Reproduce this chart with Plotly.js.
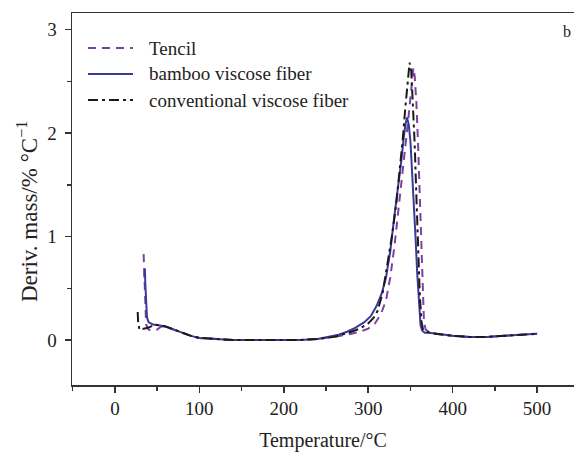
<!DOCTYPE html>
<html>
<head>
<meta charset="utf-8">
<script src="https://cdn.plot.ly/plotly-3.0.1.min.js"></script>
<style>html,body{margin:0;padding:0;background:#fff;}#chart{width:575px;height:452px;}</style>
</head>
<body>
<div id="chart"></div>
<script>
// Tencil (dashed purple)
const tencilT = [34, 35, 36, 37, 40, 45, 50, 55, 60, 70, 80, 90, 100, 120, 140, 160, 180, 200, 220, 240, 260, 280, 290, 300, 308, 315, 321, 326, 331, 335, 338, 343, 347, 350, 352, 353.5, 355, 357, 359, 361, 363, 364.5, 366, 368, 372, 380, 400, 420, 440, 460, 480, 500];
const tencilV = [0.83, 0.6, 0.3, 0.15, 0.1, 0.09, 0.1, 0.13, 0.13, 0.1, 0.07, 0.04, 0.02, 0.01, 0.0, 0.0, 0.0, 0.0, 0.0, 0.01, 0.03, 0.06, 0.08, 0.11, 0.16, 0.25, 0.38, 0.6, 0.9, 1.2, 1.45, 1.8, 2.1, 2.35, 2.55, 2.63, 2.55, 2.3, 1.9, 1.35, 0.8, 0.4, 0.18, 0.1, 0.08, 0.06, 0.04, 0.03, 0.03, 0.04, 0.05, 0.06];

// bamboo viscose fiber (solid blue)
const bambooT = [35, 35.5, 36, 37, 38, 40, 45, 50, 60, 70, 80, 90, 100, 120, 140, 160, 180, 200, 220, 240, 255, 265, 275, 285, 295, 303, 310, 316, 321, 326, 331, 336, 339, 342, 344, 346, 348, 350, 352, 354, 356, 358, 360, 362, 364, 367, 372, 380, 400, 420, 440, 460, 480, 500];
const bambooV = [0.6, 0.69, 0.55, 0.35, 0.22, 0.17, 0.15, 0.145, 0.13, 0.1, 0.07, 0.04, 0.02, 0.01, 0.0, 0.0, 0.0, 0.0, 0.0, 0.01, 0.03, 0.05, 0.08, 0.12, 0.17, 0.23, 0.33, 0.45, 0.6, 0.85, 1.2, 1.5, 1.72, 1.95, 2.08, 2.15, 2.08, 1.92, 1.65, 1.35, 1.0, 0.65, 0.33, 0.14, 0.09, 0.07, 0.07, 0.06, 0.04, 0.03, 0.03, 0.04, 0.05, 0.06];

// conventional viscose fiber (dash-dot black)
const convT = [27, 27.5, 29, 33, 40, 47, 55, 60, 70, 80, 90, 100, 120, 140, 160, 180, 200, 220, 240, 260, 280, 290, 300, 306, 311, 317, 323, 328, 333, 337, 341, 344, 347, 349, 351, 353, 355, 357, 359, 361, 363, 365, 368, 380, 400, 420, 440, 460, 480, 500];
const convV = [0.27, 0.18, 0.1, 0.11, 0.12, 0.15, 0.14, 0.13, 0.1, 0.07, 0.04, 0.02, 0.01, 0.0, 0.0, 0.0, 0.0, 0.0, 0.01, 0.03, 0.08, 0.11, 0.16, 0.21, 0.28, 0.45, 0.75, 1.0, 1.3, 1.6, 1.95, 2.25, 2.55, 2.68, 2.6, 2.3, 1.9, 1.4, 0.9, 0.45, 0.18, 0.1, 0.08, 0.06, 0.04, 0.03, 0.03, 0.04, 0.05, 0.06];

const seriesNames = ['Tencil', 'bamboo viscose fiber', 'conventional viscose fiber'];
const xTickVals = [0, 100, 200, 300, 400, 500];
const yTickVals = [0, 1, 2, 3];
const xTitle = 'Temperature/°C';
const yTitle = 'Deriv. mass/% °C<sup>−1</sup>';

const serif = 'Liberation Serif, Times New Roman, serif';
const colors = ['#7d3fa3', '#3a3a98', '#1a1a1a'];
const dashes = ['8px,6px', 'solid', '10px,4px,3px,4px'];

const traces = [
  {x: tencilT, y: tencilV, name: seriesNames[0], mode: 'lines', type: 'scatter',
   line: {color: colors[0], width: 2, dash: dashes[0]}},
  {x: bambooT, y: bambooV, name: seriesNames[1], mode: 'lines', type: 'scatter',
   line: {color: colors[1], width: 2}},
  {x: convT, y: convV, name: seriesNames[2], mode: 'lines', type: 'scatter',
   line: {color: colors[2], width: 2, dash: dashes[2]}}
];

// Plot area geometry (pixels) used to place the hand-made legend and y title
const L = 72, T = 13, W = 502, H = 372;
const px = v => (v - L) / W;
const py = v => 1 - (v - T) / H;
const legendRows = [48, 74, 100];

const shapes = legendRows.map((r, i) => ({
  type: 'line', xref: 'paper', yref: 'paper',
  x0: px(88), x1: px(133), y0: py(r), y1: py(r),
  line: {color: colors[i], width: 2, dash: dashes[i]}
}));

const annotations = legendRows.map((r, i) => ({
  text: seriesNames[i], xref: 'paper', yref: 'paper', x: px(147), y: py(r),
  xanchor: 'left', yanchor: 'middle', showarrow: false,
  font: {family: serif, size: 19, color: '#222'}
}));
annotations.push({text: 'b', xref: 'paper', yref: 'paper', x: 0.986, y: 0.95, showarrow: false,
  xanchor: 'center', yanchor: 'middle', font: {family: serif, size: 16, color: '#222'}});
annotations.push({text: yTitle, xref: 'paper', yref: 'paper', x: px(27), y: py(212),
  textangle: -90, xanchor: 'center', yanchor: 'middle', showarrow: false,
  font: {family: serif, size: 23, color: '#222'}});

const layout = {
  width: 575, height: 452,
  margin: {l: 72, r: 1, t: 13, b: 67},
  paper_bgcolor: '#fff', plot_bgcolor: '#fff',
  font: {family: serif, color: '#222', size: 18},
  showlegend: false,
  xaxis: {
    range: [-50.8, 543.7], tickvals: xTickVals, ticks: 'outside', ticklen: 6, tickwidth: 1.5,
    tickcolor: '#333', showline: true, linecolor: '#333', linewidth: 1.5, mirror: true,
    showgrid: false, zeroline: false, tickfont: {family: serif, size: 19, color: '#222'},
    minor: {dtick: 50, tick0: 0, ticks: 'outside', ticklen: 4, tickcolor: '#333', showgrid: false},
    title: {text: xTitle, font: {family: serif, size: 20, color: '#222'}, standoff: 14}
  },
  yaxis: {
    range: [-0.435, 3.16], tickvals: yTickVals, ticks: 'outside', ticklen: 6, tickwidth: 1.5,
    tickcolor: '#333', showline: true, linecolor: '#333', linewidth: 1.5,
    showgrid: false, zeroline: false, tickfont: {family: serif, size: 19, color: '#222'},
    ticklabelstandoff: 4,
    minor: {dtick: 0.5, tick0: 0, ticks: 'outside', ticklen: 4, tickcolor: '#333', showgrid: false}
  },
  shapes: shapes,
  annotations: annotations
};

Plotly.newPlot('chart', traces, layout, {displayModeBar: false, staticPlot: true});
</script>
</body>
</html>
